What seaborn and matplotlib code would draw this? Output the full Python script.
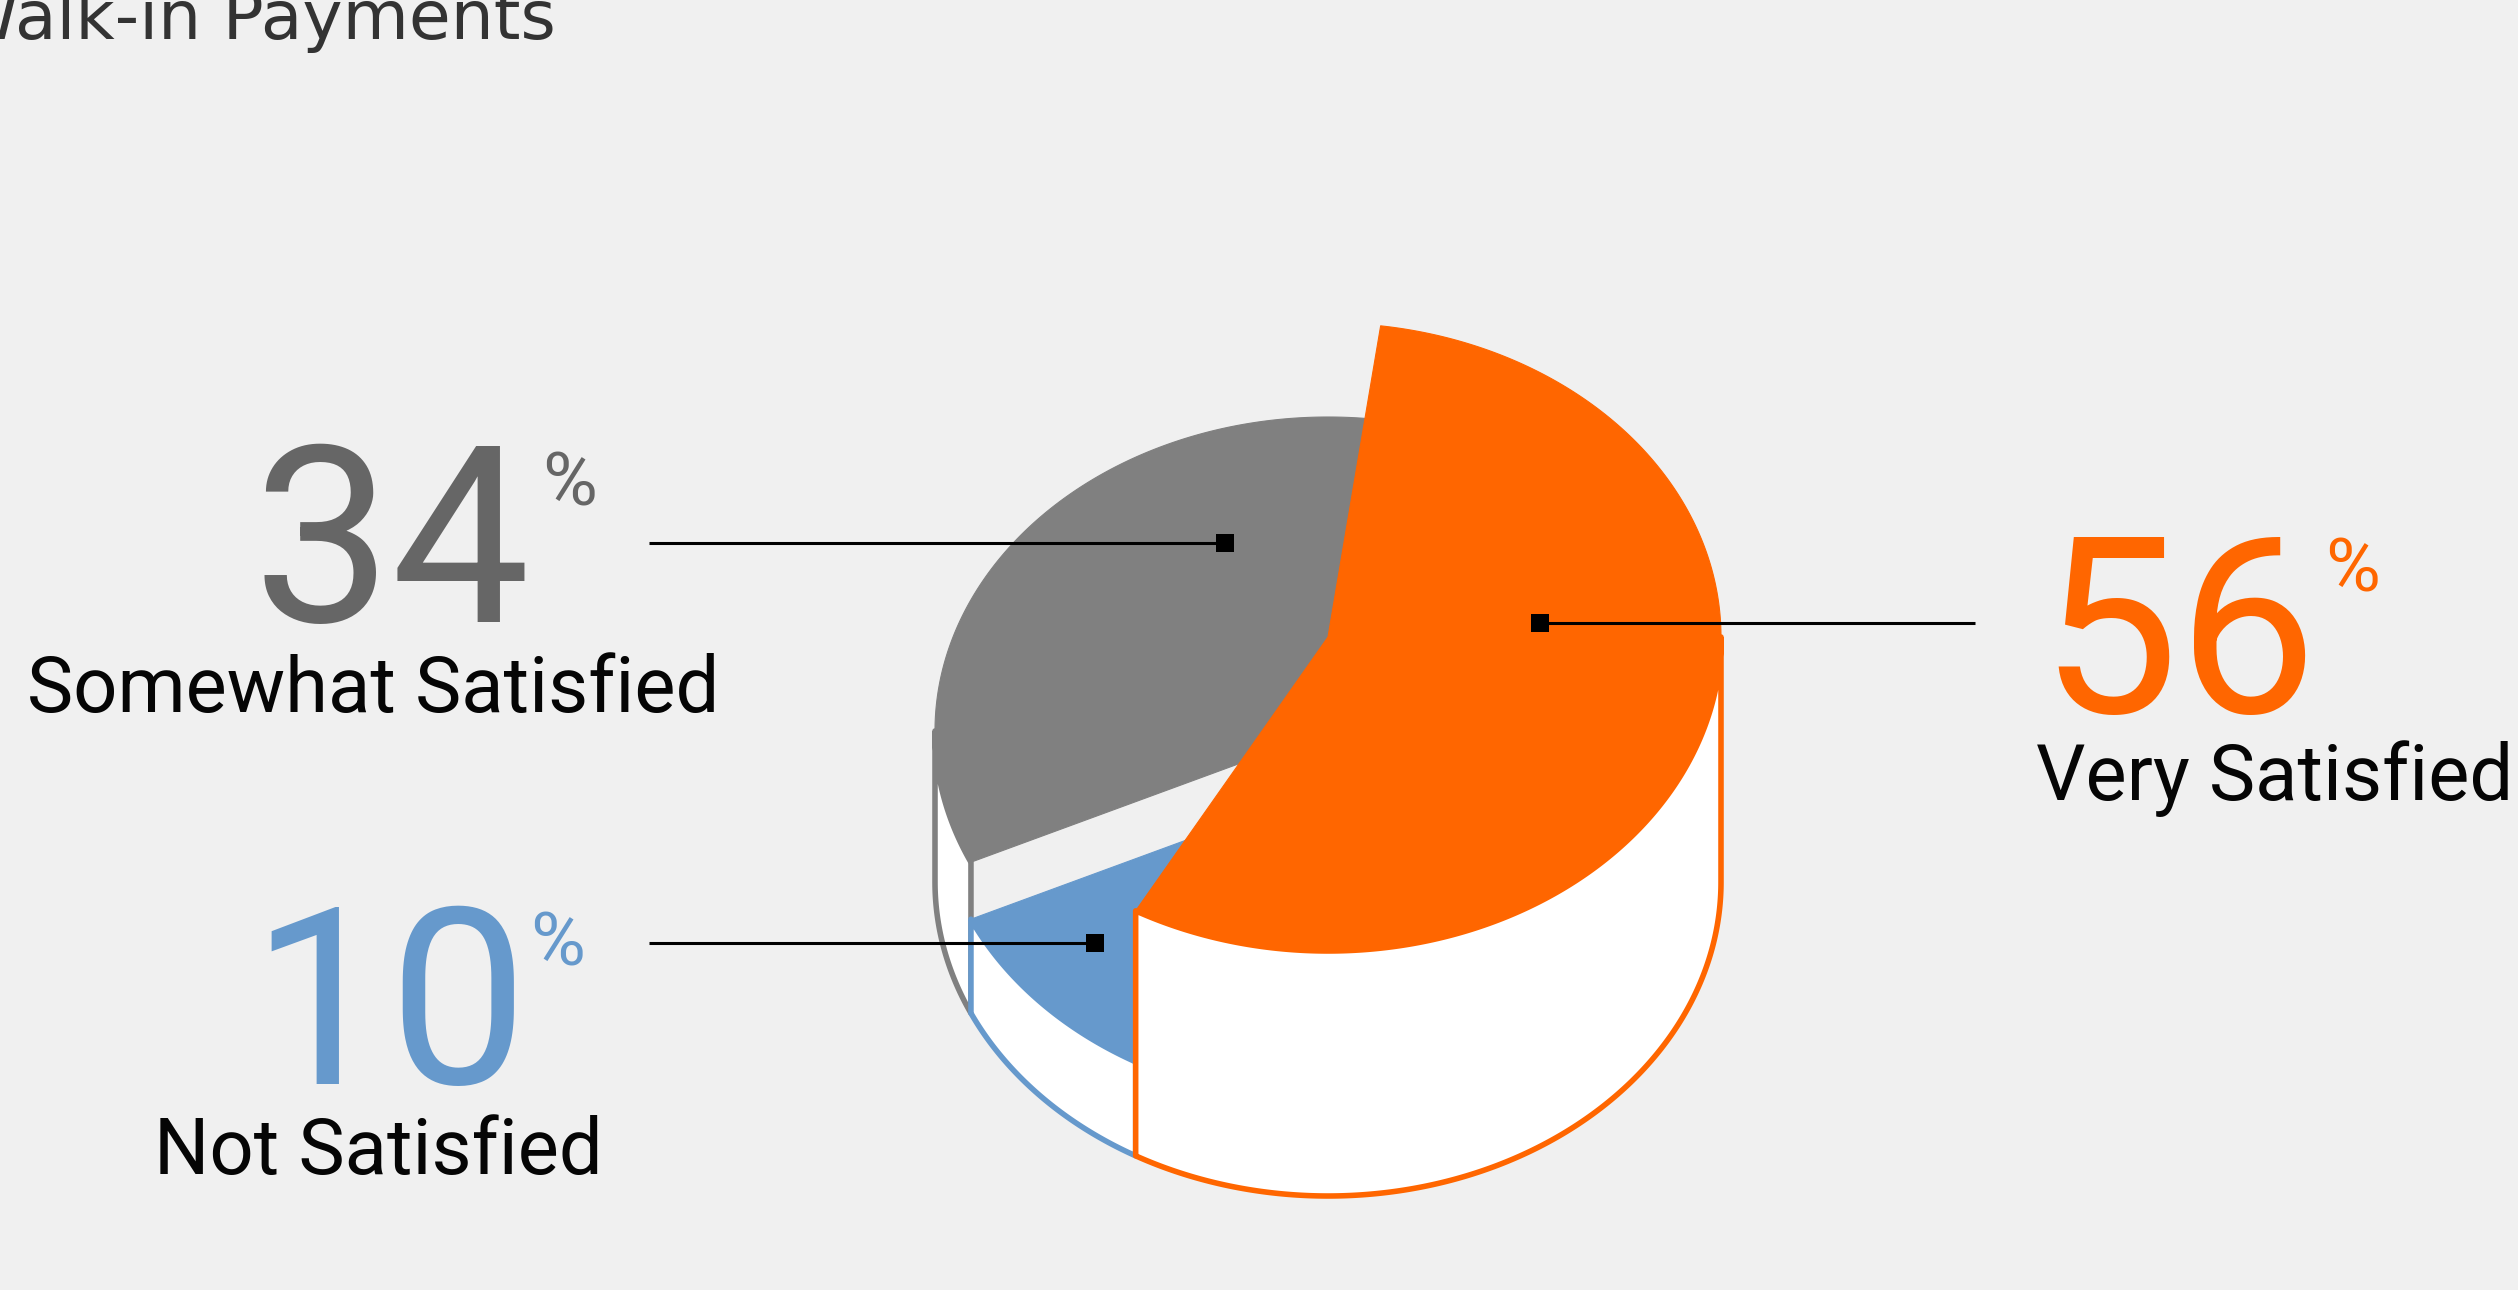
import numpy as np
import matplotlib.pyplot as plt
import seaborn as sns
from matplotlib.patches import Polygon

# data (counter-clockwise order, starting at the top cut)
categories = ["Somewhat Satisfied", "Not Satisfied", "Very Satisfied"]
shares = [34, 10, 56]
slice_colors = ["#808080", "#6699CC", "#FF6600"]
number_colors = ["#666666", "#6699CC", "#FF6600"]
title = "Walk-in Payments"

# styling / layout (pixel space of a 2518x1290 canvas)
W, H = 2518, 1290
bg = "#F0F0F0"
cx, base_y = 1328, 882          # centre of the bottom ellipse
rx, ry = 393, 314               # ellipse radii
depth = [151, 94, 245]          # extrusion height of each slice
start_angle = 82.3

sns.set_style("white", {"axes.facecolor": bg, "figure.facecolor": bg})
plt.rcParams["font.family"] = ["Roboto", "DejaVu Sans"]

fig = plt.figure(figsize=(W / 100, H / 100), dpi=100)
ax = fig.add_axes([0, 0, 1, 1])


def arc(t0, t1, level, n=300):
    t = np.radians(np.linspace(t0, t1, n))
    return np.column_stack([cx + rx * np.cos(t), base_y - level - ry * np.sin(t)])


# slice angles from the shares
spans = np.array(shares) / sum(shares) * 360
starts = start_angle + np.concatenate([[0], np.cumsum(spans)[:-1]])
ends = starts + spans

z = 1
for a0, a1, h, col in zip(starts, ends, depth, slice_colors):
    # visible part of the outer wall (front half of the ellipse)
    v0, v1 = max(a0, 180), min(a1, 360)
    if v1 > v0:
        wall = np.vstack([arc(v0, v1, h), arc(v1, v0, 0)])
        ax.add_patch(Polygon(wall, closed=True, facecolor="white",
                             edgecolor=col, lw=4.0, joinstyle="round", zorder=z))
    top = np.vstack([[cx, base_y - h], arc(a0, a1, h)])
    ax.add_patch(Polygon(top, closed=True, facecolor=col, edgecolor=col,
                         lw=0.8, joinstyle="round", zorder=z + 1))
    z += 2

# leader lines with square end markers
leader_y = [543, 943, 623]
leader_x0 = [649, 649, 1975]
leader_x1 = [1225, 1095, 1540]
for y, x0, x1 in zip(leader_y, leader_x0, leader_x1):
    ax.plot([x0, x1], [y, y], color="black", lw=2.2, zorder=10, solid_capstyle="butt")
sns.scatterplot(x=leader_x1, y=leader_y, marker="s", s=150, color="black",
                edgecolor="none", ax=ax, zorder=11, legend=False)
ax.set_xlim(0, W)
ax.set_ylim(H, 0)
ax.axis("off")

# big percentage numbers and labels
num_x = [531, 528, 2317]
num_y = [622, 1084, 713]
pct_x = [542, 530, 2325]
pct_y = [505, 966, 592]
lab_x = [373, 378, 2275]
lab_y = [712, 1174, 800]
for i, (cat, val) in enumerate(zip(categories, shares)):
    ax.text(num_x[i], num_y[i], f"{val}", fontsize=178, fontweight="normal",
            color=number_colors[i], ha="right", va="baseline")
    ax.text(pct_x[i], pct_y[i], "%", fontsize=54, fontweight="normal",
            color=number_colors[i], ha="left", va="baseline")
    ax.text(lab_x[i], lab_y[i], cat, fontsize=56, fontweight="normal",
            color="#050505", ha="center", va="baseline")

ax.text(556, 39, title, fontsize=49, color="#333333", ha="right",
        va="baseline", family=["DejaVu Sans"])

fig.savefig("out.png", dpi=100, facecolor=bg)
